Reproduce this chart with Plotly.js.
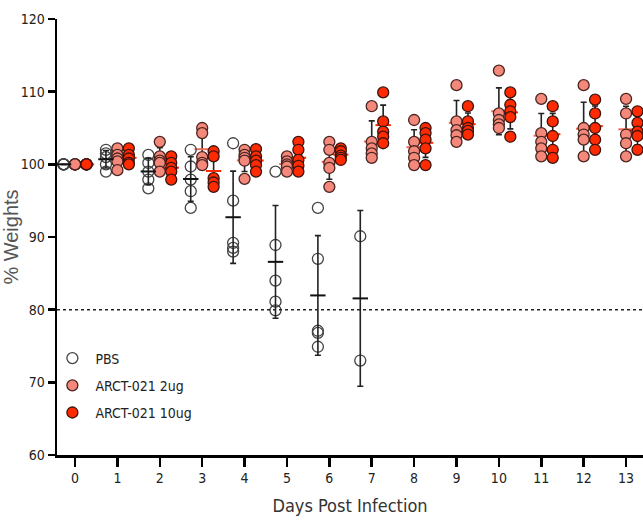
<!DOCTYPE html>
<html>
<head>
<meta charset="utf-8">
<script src="https://cdn.plot.ly/plotly-3.0.1.min.js"></script>
<style>html,body{margin:0;padding:0;background:#fff;}#chart{width:643px;height:521px;}</style>
</head>
<body>
<div id="chart"></div>
<script>
const days = [0,1,2,3,4,5,6,7,8,9,10,11,12,13];
const dayLabels = ["0","1","2","3","4","5","6","7","8","9","10","11","12","13"];
const groupNames = ["PBS","ARCT-021 2ug","ARCT-021 10ug"];

// % weight per mouse, one list per day (PBS group died out after day 7)
const pbs = [
  [100,100,100,100,100],
  [102,101.5,101,100,99],
  [101.3,100.2,99,97.9,96.7],
  [102,99.7,97.9,96.3,94],
  [102.9,95,89.2,88.5,88],
  [99,88.9,84,81.1,79.9],
  [94,87,77.1,76.8,74.9],
  [90.1,73]
];
const arct2 = [
  [100,100,100,100,100],
  [102.2,101.3,100.8,100.4,99.2],
  [103.1,101.1,100.5,100.2,99],
  [105,104.3,101,100.2,99.9],
  [102,101.3,100.9,100.5,98],
  [101.1,100.4,100,99.7,99],
  [103.1,102,100.2,99.5,96.9],
  [108,103.1,102.2,101.5,100.9],
  [106.1,103.1,101.8,100.9,99.9],
  [110.9,105.9,104.7,104,103.1],
  [112.9,107,106.1,105.5,105],
  [109,104.3,103.1,102.2,101.1],
  [110.9,105,104.1,103.4,101.1],
  [109,107,104.1,102.9,101.1]
];
const arct10 = [
  [100,100,100,100,100],
  [102.2,101.3,100.8,100.2,100],
  [101.1,100.2,99.5,99,97.9],
  [101.8,101.1,98.1,97.5,96.9],
  [102.1,101.1,100.5,99.9,99],
  [103.1,102,100.6,99.8,99],
  [102.2,101.8,101.2,100.9,100.6],
  [109.9,105.9,104.5,103.8,102.9],
  [105,104.3,103.4,102.2,99.9],
  [108,105.9,105,104.6,104.1],
  [109.9,108.2,107.3,106.5,103.8],
  [108,105.9,103.9,102,100.9],
  [108.9,107,105,103.4,102],
  [107.3,105.7,104.5,103.9,102]
];

const groups = [pbs, arct2, arct10];
const offsets = [-0.27, 0, 0.27];
const fills = ["rgba(255,255,255,0)", "#F4897B", "#FF2A00"];
const outlines = ["#444444", "#4a2420", "#3a1410"];
const meanColors = ["#111111", "#F06A55", "#FF2A00"];
const NARROW = "'Liberation Sans Narrow', 'Arial Narrow', 'DejaVu Sans Condensed', 'Roboto Condensed', 'Liberation Sans', Arial, sans-serif";
const SANS = "'Liberation Sans', Arial, sans-serif";

function mean(a){ return a.reduce((s,v)=>s+v,0)/a.length; }
function sd(a){ if(a.length<2) return 0; const m=mean(a); return Math.sqrt(a.reduce((s,v)=>s+(v-m)*(v-m),0)/(a.length-1)); }

const pointTraces = [];
const meanTraces = [];
groups.forEach((g, gi) => {
  const px = [], py = [];
  const mx = [], my = [], me = [];
  g.forEach((vals, di) => {
    if (!vals || !vals.length) return;
    vals.forEach(v => { px.push(days[di] + offsets[gi]); py.push(v); });
    mx.push(days[di] + offsets[gi]); my.push(mean(vals)); me.push(sd(vals));
  });
  pointTraces.push({
    type: "scatter", mode: "markers", x: px, y: py, name: groupNames[gi],
    legendgroup: "g" + gi, cliponaxis: false,
    marker: { symbol: "circle", size: 11, color: fills[gi], line: { color: outlines[gi], width: 1.3 } },
    hoverinfo: "x+y"
  });
  meanTraces.push({
    type: "scatter", mode: "markers", x: mx, y: my, showlegend: false,
    legendgroup: "g" + gi, hoverinfo: "skip",
    marker: { symbol: "line-ew", size: 11, color: meanColors[gi], line: { color: meanColors[gi], width: 2 } },
    error_y: { type: "data", array: me, visible: true, color: "#222", thickness: 1.6, width: 3 }
  });
});

// treated groups: error bars behind the dots; PBS (open circles): on top
const data = [meanTraces[1], meanTraces[2], pointTraces[0], pointTraces[1], pointTraces[2], meanTraces[0]];

const layout = {
  width: 643, height: 521,
  margin: { l: 57, r: 0, t: 19, b: 66, pad: 0 },
  paper_bgcolor: "#ffffff", plot_bgcolor: "#ffffff",
  showlegend: true,
  font: { family: NARROW, color: "#222" },
  xaxis: {
    range: [-0.425, 13.4],
    tickvals: days, ticktext: dayLabels,
    ticks: "outside", ticklen: 9, tickwidth: 2.5, tickcolor: "#000",
    showline: true, linewidth: 2.5, linecolor: "#000",
    showgrid: false, zeroline: false,
    tickfont: { family: NARROW, size: 14, color: "#222" },
    title: { text: "Days Post Infection", font: { family: NARROW, size: 18, color: "#333" }, standoff: 14 }
  },
  yaxis: {
    range: [60, 120], dtick: 10, tick0: 60,
    ticks: "outside", ticklen: 7, tickwidth: 2.5, tickcolor: "#000",
    showline: true, linewidth: 2.5, linecolor: "#000",
    showgrid: false, zeroline: false,
    tickfont: { family: NARROW, size: 14, color: "#222" },
    title: { text: "% Weights", font: { family: SANS, size: 20, color: "#555" }, standoff: 12 }
  },
  shapes: [{
    type: "line", xref: "paper", x0: 0, x1: 1, yref: "y", y0: 80, y1: 80,
    line: { color: "#222", width: 1.5, dash: "dot" }
  }],
  legend: {
    x: -0.013, y: 0.258, xanchor: "left", yanchor: "top",
    bgcolor: "rgba(0,0,0,0)", borderwidth: 0,
    traceorder: "grouped", tracegroupgap: 6, itemwidth: 36,
    font: { family: NARROW, size: 14, color: "#222" }
  }
};

Plotly.newPlot("chart", data, layout, { displayModeBar: false, staticPlot: true });
</script>
</body>
</html>
